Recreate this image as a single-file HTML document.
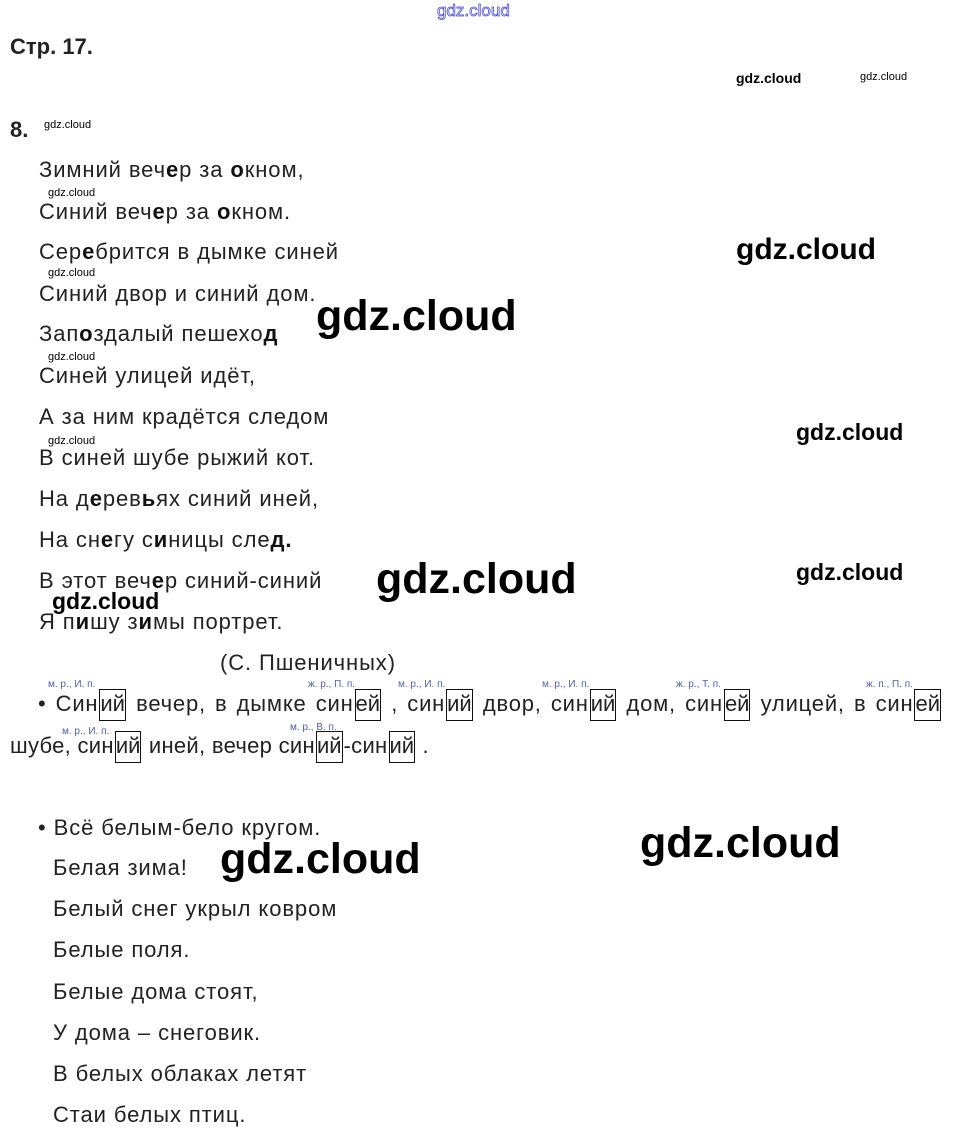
<!DOCTYPE html>
<html><head><meta charset="utf-8"><style>
body{margin:0;width:953px;height:1139px;background:#fff;position:relative;overflow:hidden;font-family:"Liberation Sans",Arial,sans-serif;color:#222}
.a{position:absolute;white-space:nowrap}
.l{position:absolute;white-space:nowrap;font-size:22px;letter-spacing:0.9px;line-height:24px;color:#222}
.w{position:absolute;white-space:nowrap;font-family:"Liberation Sans",sans-serif;font-weight:bold;color:#000}
.bx{display:inline-block;border:1.5px solid #111;line-height:28px;height:30px;vertical-align:middle;margin:0 1px;letter-spacing:0}
.j{text-align:justify;text-align-last:justify;white-space:normal}
.t{position:absolute;font-size:10px;color:#5060b0;white-space:nowrap}
b{color:#111}
</style></head><body>
<div class="a" style="left:437px;top:1px;font-size:17px;color:#fff;-webkit-text-stroke:0.8px #5050d0">gdz.cloud</div>
<div class="a" style="left:10px;top:34px;font-size:22px;font-weight:bold;color:#222">Стр. 17.</div>
<div class="w" style="left:736px;top:70px;font-size:14px">gdz.cloud</div>
<div class="w" style="left:860px;top:71px;font-size:11px;font-weight:normal">gdz.cloud</div>
<div class="a" style="left:10px;top:117px;font-size:22px;font-weight:bold">8.</div>
<div class="w" style="left:44px;top:119px;font-size:11px;font-weight:normal">gdz.cloud</div>

<div class="l" style="left:39px;top:158px">Зимний веч<b>е</b>р за <b>о</b>кном,</div>
<div class="w" style="left:48px;top:187px;font-size:11px;font-weight:normal">gdz.cloud</div>
<div class="l" style="left:39px;top:200px">Синий веч<b>е</b>р за <b>о</b>кном.</div>
<div class="l" style="left:39px;top:240px">Сер<b>е</b>брится в дымке синей</div>
<div class="w" style="left:736px;top:233px;font-size:30px">gdz.cloud</div>
<div class="w" style="left:48px;top:267px;font-size:11px;font-weight:normal">gdz.cloud</div>
<div class="l" style="left:39px;top:282px">Синий двор и синий дом.</div>
<div class="l" style="left:39px;top:322px">Зап<b>о</b>здалый пешехо<b>д</b></div>
<div class="w" style="left:316px;top:292px;font-size:43px">gdz.cloud</div>
<div class="w" style="left:48px;top:351px;font-size:11px;font-weight:normal">gdz.cloud</div>
<div class="l" style="left:39px;top:364px">Синей улицей идёт,</div>
<div class="l" style="left:39px;top:405px">А за ним крадётся следом</div>
<div class="w" style="left:796px;top:419px;font-size:23px">gdz.cloud</div>
<div class="w" style="left:48px;top:435px;font-size:11px;font-weight:normal">gdz.cloud</div>
<div class="l" style="left:39px;top:446px">В синей шубе рыжий кот.</div>
<div class="l" style="left:39px;top:487px">На д<b>е</b>рев<b>ь</b>ях синий иней,</div>
<div class="l" style="left:39px;top:528px">На сн<b>е</b>гу с<b>и</b>ницы сле<b>д.</b></div>
<div class="l" style="left:39px;top:569px">В этот веч<b>е</b>р синий-синий</div>
<div class="w" style="left:376px;top:555px;font-size:43px">gdz.cloud</div>
<div class="w" style="left:796px;top:559px;font-size:23px">gdz.cloud</div>
<div class="w" style="left:52px;top:588px;font-size:23px">gdz.cloud</div>
<div class="l" style="left:39px;top:610px">Я п<b>и</b>шу з<b>и</b>мы портрет.</div>
<div class="l" style="left:220px;top:651px">(С. Пшеничных)</div>

<div class="t" style="left:48px;top:679px">м. р., И. п.</div>
<div class="t" style="left:308px;top:679px">ж. р., П. п.</div>
<div class="t" style="left:398px;top:679px">м. р., И. п.</div>
<div class="t" style="left:542px;top:679px">м. р., И. п.</div>
<div class="t" style="left:676px;top:679px">ж. р., Т. п.</div>
<div class="t" style="left:866px;top:679px">ж. п., П. п.</div>
<div class="l j" style="left:38px;top:689px;width:904px;line-height:30px;letter-spacing:0.8px">• Син<span class="bx">ий</span> вечер, в дымке син<span class="bx">ей</span> , син<span class="bx">ий</span> двор, син<span class="bx">ий</span> дом, син<span class="bx">ей</span> улицей, в син<span class="bx">ей</span></div>
<div class="t" style="left:62px;top:726px">м. р., И. п.</div>
<div class="t" style="left:290px;top:722px">м. р., В. п.</div>
<div class="l" style="left:10px;top:731px;line-height:30px;letter-spacing:0.3px">шубе, син<span class="bx">ий</span> иней, вечер син<span class="bx">ий</span>-син<span class="bx">ий</span> .</div>

<div class="l" style="left:38px;top:816px">• Всё белым-бело кругом.</div>
<div class="l" style="left:53px;top:856px">Белая зима!</div>
<div class="w" style="left:220px;top:835px;font-size:43px">gdz.cloud</div>
<div class="w" style="left:640px;top:819px;font-size:43px">gdz.cloud</div>
<div class="l" style="left:53px;top:897px">Белый снег укрыл ковром</div>
<div class="l" style="left:53px;top:938px">Белые поля.</div>
<div class="l" style="left:53px;top:980px">Белые дома стоят,</div>
<div class="l" style="left:53px;top:1021px">У дома – снеговик.</div>
<div class="l" style="left:53px;top:1062px">В белых облаках летят</div>
<div class="l" style="left:53px;top:1103px">Стаи белых птиц.</div>
</body></html>
